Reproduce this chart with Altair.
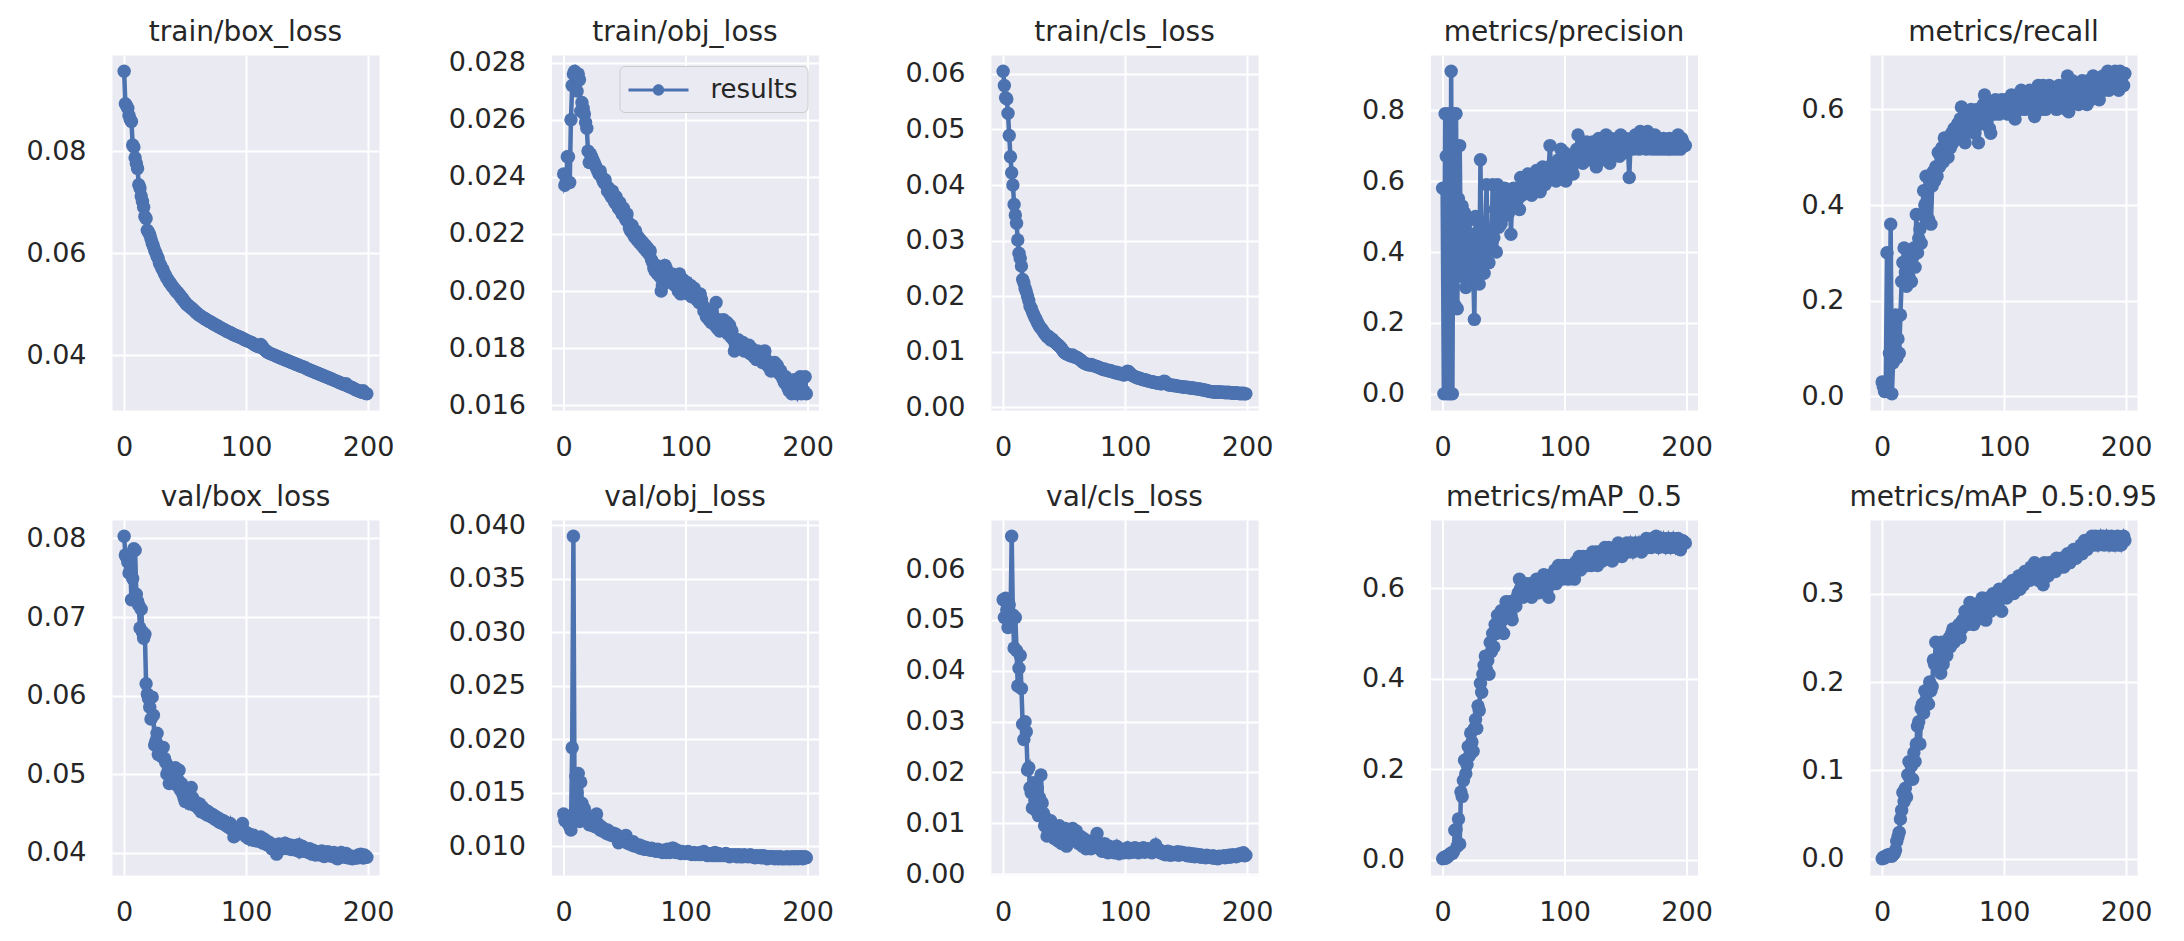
import altair as alt
import pandas as pd

BLUE = "#4C72B0"
TEXT = "#262626"
FONT = "DejaVu Sans"

epochs = list(range(200))

# train/box_loss  (units of 1e-4)
train_box_e4 = [
    957, 893, 889, 884, 870, 862, 858, 812, 808, 787,
    776, 766, 734, 728, 712, 702, 690, 672, 668, 645,
    641, 636, 628, 620, 614, 606, 601, 594, 589, 580,
    576, 570, 567, 560, 556, 551, 548, 543, 541, 536,
    534, 530, 528, 524, 523, 519, 517, 512, 511, 506,
    504, 500, 499, 496, 495, 492, 491, 488, 486, 483,
    482, 479, 478, 476, 475, 473, 472, 470, 469, 467,
    466, 465, 463, 462, 460, 459, 458, 456, 455, 454,
    452, 451, 450, 449, 447, 446, 445, 444, 443, 441,
    440, 439, 438, 437, 436, 435, 434, 433, 431, 430,
    429, 428, 427, 426, 425, 424, 422, 421, 419, 418,
    417, 416, 421, 418, 414, 411, 409, 407, 405, 404,
    403, 402, 401, 400, 399, 398, 397, 396, 395, 394,
    393, 392, 391, 390, 389, 388, 387, 386, 385, 384,
    383, 382, 381, 380, 379, 378, 377, 377, 376, 374,
    373, 372, 371, 370, 369, 368, 367, 366, 365, 364,
    363, 362, 361, 360, 359, 358, 357, 356, 355, 354,
    353, 352, 351, 350, 349, 348, 347, 346, 345, 344,
    343, 342, 344, 340, 339, 338, 337, 336, 335, 333,
    332, 331, 330, 329, 328, 327, 330, 326, 325, 324,
]

# train/obj_loss  (units of 1e-5)
train_obj_e5 = [
    2410, 2370, 2380, 2470, 2470, 2380, 2600, 2720, 2760, 2770,
    2750, 2700, 2760, 2740, 2630, 2660, 2640, 2620, 2590, 2570,
    2490, 2450, 2480, 2470, 2460, 2450, 2440, 2430, 2420, 2410,
    2420, 2400, 2390, 2380, 2390, 2370, 2350, 2360, 2340, 2330,
    2350, 2320, 2310, 2330, 2300, 2290, 2310, 2280, 2270, 2290,
    2260, 2250, 2270, 2240, 2220, 2210, 2230, 2200, 2190, 2210,
    2180, 2190, 2170, 2180, 2160, 2170, 2150, 2160, 2140, 2150,
    2130, 2140, 2110, 2100, 2080, 2070, 2090, 2060, 2080, 2050,
    2000, 2020, 2070, 2090, 2080, 2060, 2040, 2050, 2030, 2060,
    2040, 2020, 2050, 2030, 2000, 2060, 1990, 2010, 2040, 2020,
    2000, 2030, 1990, 2010, 2020, 1980, 2000, 2010, 1990, 1970,
    1980, 1960, 1990, 1970, 1950, 1930, 1940, 1910, 1920, 1900,
    1910, 1890, 1920, 1900, 1880, 1960, 1870, 1900, 1860, 1890,
    1880, 1900, 1860, 1870, 1890, 1850, 1880, 1840, 1860, 1830,
    1790, 1810, 1800, 1830, 1820, 1810, 1800, 1820, 1790, 1810,
    1800, 1790, 1810, 1780, 1800, 1790, 1770, 1780, 1760, 1790,
    1770, 1760, 1780, 1750, 1770, 1790, 1760, 1740, 1750, 1730,
    1720, 1740, 1730, 1750, 1720, 1740, 1730, 1710, 1720, 1700,
    1690, 1680, 1700, 1670, 1660, 1650, 1670, 1640, 1660, 1690,
    1650, 1640, 1680, 1660, 1700, 1640, 1690, 1650, 1700, 1640,
]

# train/cls_loss  (units of 1e-4)
train_cls_e4 = [
    605, 579, 557, 555, 529, 489, 451, 422, 400, 365,
    346, 331, 301, 277, 268, 254, 230, 224, 214, 208,
    200, 192, 182, 178, 172, 167, 162, 158, 153, 149,
    145, 142, 140, 136, 133, 130, 127, 128, 124, 121,
    123, 120, 118, 116, 114, 112, 110, 108, 105, 102,
    99, 97, 96, 95, 94, 93, 92, 94, 91, 90,
    90, 89, 87, 86, 84, 82, 80, 79, 78, 77,
    77, 76, 77, 76, 75, 74, 74, 73, 72, 71,
    70, 69, 68, 69, 67, 67, 66, 65, 66, 64,
    64, 63, 62, 63, 61, 60, 61, 60, 59, 58,
    59, 62, 65, 64, 61, 59, 57, 56, 55, 54,
    53, 52, 52, 51, 50, 50, 49, 49, 48, 47,
    47, 46, 46, 45, 45, 44, 44, 43, 43, 42,
    42, 43, 47, 46, 42, 41, 40, 40, 40, 39,
    39, 39, 38, 38, 38, 37, 37, 37, 36, 36,
    36, 36, 35, 35, 35, 34, 34, 34, 33, 33,
    33, 33, 32, 32, 31, 31, 30, 30, 29, 29,
    28, 28, 28, 27, 28, 27, 27, 28, 27, 27,
    27, 27, 26, 27, 26, 27, 26, 26, 25, 26,
    25, 26, 25, 25, 24, 25, 24, 25, 24, 24,
]

# metrics/precision  (units of 1e-3)
precision_e3 = [
    580, 0, 790, 670, 0, 790, 0, 910, 0, 790,
    250, 790, 240, 550, 700, 360, 530, 330, 510, 300,
    500, 320, 490, 310, 450, 350, 210, 500, 320, 430,
    310, 660, 350, 380, 340, 470, 590, 420, 370, 460,
    410, 590, 440, 520, 400, 590, 470, 540, 480, 560,
    500, 580, 530, 560, 510, 570, 450, 550, 580, 540,
    560, 570, 550, 520, 610, 560, 590, 570, 600, 580,
    620, 590, 610, 560, 600, 620, 590, 630, 600, 610,
    570, 620, 640, 610, 590, 630, 600, 640, 700, 620,
    610, 650, 630, 600, 640, 660, 620, 690, 650, 640,
    680, 600, 650, 670, 630, 660, 640, 620, 650, 680,
    690, 730, 660, 680, 700, 650, 690, 670, 710, 680,
    700, 660, 690, 710, 670, 700, 640, 690, 720, 680,
    700, 660, 710, 690, 730, 670, 700, 650, 720, 690,
    680, 710, 690, 720, 700, 670, 730, 690, 710, 680,
    720, 700, 690, 610, 700, 720, 690, 710, 730, 700,
    710, 690, 740, 720, 700, 730, 710, 690, 740, 720,
    700, 720, 690, 710, 730, 700, 690, 720, 710, 700,
    690, 720, 700, 710, 690, 700, 720, 690, 710, 700,
    720, 690, 710, 730, 700, 690, 720, 710, 700, 700,
]

# metrics/recall  (units of 1e-3)
recall_e3 = [
    30, 20, 10, 30, 300, 10, 90, 360, 5, 70,
    100, 170, 80, 120, 90, 170, 240, 280, 310, 260,
    230, 270, 250, 300, 240, 290, 310, 270, 380, 300,
    330, 350, 320, 380, 430, 400, 460, 410, 370, 450,
    360, 440, 470, 450, 480, 460, 510, 480, 500, 520,
    490, 540, 510, 530, 500, 540, 520, 550, 530, 560,
    540, 550, 570, 560, 580, 605, 560, 540, 530, 570,
    590, 560, 580, 600, 570, 590, 550, 580, 600, 530,
    590, 570, 600, 610, 630, 590, 580, 600, 560, 550,
    600, 610, 590, 620, 600, 610, 590, 600, 620, 610,
    600, 620, 610, 590, 620, 600, 630, 610, 600, 580,
    610, 630, 620, 600, 640, 610, 620, 600, 630, 610,
    620, 640, 610, 600, 630, 585, 640, 620, 650, 610,
    600, 630, 650, 620, 600, 640, 620, 650, 610, 630,
    620, 640, 610, 600, 630, 650, 620, 640, 610, 630,
    640, 600, 670, 595, 650, 630, 660, 640, 620, 650,
    630, 610, 620, 640, 660, 620, 650, 640, 610, 660,
    640, 620, 650, 670, 630, 660, 640, 650, 620, 660,
    650, 670, 640, 660, 650, 680, 640, 660, 670, 650,
    660, 680, 650, 670, 640, 680, 660, 670, 650, 675,
]

# val/box_loss  (units of 1e-4)
val_box_e4 = [
    803, 779, 776, 770, 756, 765, 722, 749, 787, 785,
    729, 720, 715, 686, 710, 681, 673, 678, 615, 602,
    596, 585, 570, 598, 575, 537, 542, 552, 525, 535,
    530, 522, 534, 520, 515, 500, 510, 488, 496, 505,
    495, 490, 508, 486, 493, 505, 480, 488, 475, 470,
    465, 472, 468, 476, 462, 483, 470, 466, 460, 464,
    460, 456, 462, 452, 458, 455, 450, 454, 448, 452,
    450, 446, 449, 444, 447, 442, 445, 440, 443, 438,
    438, 441, 436, 439, 434, 435, 432, 437, 430, 428,
    420, 426, 423, 428, 425, 430, 432, 437, 428, 424,
    420, 425, 418, 423, 420, 416, 422, 418, 415, 419,
    418, 414, 420, 416, 412, 417, 413, 410, 414, 409,
    412, 405, 410, 407, 403, 398, 408, 411, 404, 409,
    410, 406, 412, 408, 405, 410, 407, 404, 409, 406,
    408, 403, 406, 410, 401, 405, 408, 402, 406, 404,
    404, 400, 405, 402, 398, 403, 400, 397, 401, 399,
    400, 397, 402, 398, 395, 400, 397, 401, 396, 399,
    398, 395, 400, 396, 393, 392, 398, 394, 400, 396,
    397, 394, 399, 395, 393, 396, 394, 392, 395, 393,
    395, 393, 397, 394, 398, 396, 393, 397, 395, 394,
]

# val/obj_loss  (units of 1e-5)
val_obj_e5 = [
    1300, 1240, 1280, 1220, 1260, 1180, 1150, 1920, 3900, 1250,
    1650, 1500, 1680, 1230, 1600, 1400, 1300, 1350, 1250, 1280,
    1240, 1200, 1270, 1220, 1190, 1230, 1180, 1300, 1210, 1170,
    1150, 1180, 1140, 1160, 1130, 1120, 1150, 1110, 1130, 1100,
    1100, 1120, 1090, 1110, 1080, 1030, 1080, 1060, 1050, 1070,
    1040, 1100, 1030, 1050, 1020, 1030, 1010, 1040, 1000, 1010,
    1000, 990, 1010, 980, 1000, 980, 970, 990, 970, 980,
    970, 960, 980, 960, 970, 960, 950, 970, 950, 960,
    950, 940, 960, 950, 940, 970, 950, 940, 960, 980,
    980, 950, 940, 960, 940, 950, 930, 950, 940, 930,
    940, 930, 950, 930, 940, 920, 930, 940, 920, 930,
    930, 920, 940, 920, 930, 950, 920, 930, 910, 920,
    920, 930, 910, 920, 940, 910, 920, 930, 910, 920,
    920, 910, 920, 930, 910, 920, 900, 910, 920, 910,
    910, 920, 900, 910, 920, 900, 910, 900, 920, 910,
    910, 900, 910, 920, 900, 910, 900, 890, 910, 900,
    900, 910, 890, 900, 910, 890, 900, 880, 900, 890,
    900, 890, 900, 880, 890, 900, 880, 890, 900, 880,
    890, 880, 890, 900, 880, 890, 880, 900, 890, 880,
    900, 890, 880, 900, 890, 900, 880, 890, 900, 890,
]

# val/cls_loss  (units of 1e-4)
val_cls_e4 = [
    540, 505, 543, 520, 485, 530, 495, 665, 510, 445,
    505, 440, 370, 405, 430, 365, 295, 265, 300, 280,
    205, 210, 170, 160, 130, 180, 145, 125, 170, 115,
    150, 195, 140, 120, 95, 110, 75, 100, 90, 105,
    85, 95, 70, 90, 80, 65, 95, 75, 60, 85,
    70, 90, 55, 80, 65, 85, 70, 90, 75, 65,
    85, 70, 60, 75, 65, 55, 70, 60, 50, 65,
    55, 60, 50, 65, 55, 60, 70, 80, 60, 50,
    55, 45, 50, 60, 45, 50, 42, 55, 48, 45,
    50, 42, 48, 55, 45, 40, 50, 44, 47, 42,
    48, 45, 52, 42, 46, 50, 43, 48, 52, 44,
    47, 42, 50, 45, 48, 52, 43, 47, 45, 50,
    44, 48, 42, 46, 50, 58, 47, 44, 48, 42,
    45, 40, 43, 38, 42, 45, 40, 37, 43, 41,
    38, 42, 40, 44, 37, 41, 43, 39, 42, 38,
    40, 36, 41, 38, 35, 40, 37, 34, 39, 36,
    35, 38, 33, 37, 34, 36, 32, 37, 35, 33,
    34, 32, 36, 31, 34, 33, 30, 35, 32, 34,
    33, 36, 32, 35, 34, 37, 33, 36, 38, 35,
    37, 34, 38, 36, 40, 37, 39, 42, 36, 37,
]

# metrics/mAP_0.5  (units of 1e-3)
map50_e3 = [
    2, 5, 3, 8, 6, 10, 12, 15, 14, 18,
    65, 67, 30, 90, 35, 150, 140, 175, 220, 190,
    210, 250, 230, 280, 260, 240, 290, 310, 290, 340,
    330, 390, 370, 410, 430, 450, 420, 440, 410, 480,
    460, 500, 470, 520, 500, 540, 520, 510, 550, 530,
    500, 540, 570, 550, 560, 570, 540, 530, 560, 570,
    560, 580, 590, 620, 600, 590, 580, 600, 590, 610,
    600, 590, 610, 580, 600, 590, 610, 620, 600, 590,
    610, 620, 600, 630, 610, 620, 600, 580, 620, 630,
    630, 620, 640, 610, 640, 650, 630, 640, 620, 650,
    640, 650, 630, 620, 640, 650, 640, 630, 620, 650,
    660, 650, 670, 640, 660, 670, 650, 660, 670, 650,
    670, 660, 650, 680, 670, 660, 680, 650, 670, 680,
    680, 660, 670, 690, 680, 670, 690, 680, 670, 660,
    680, 690, 670, 680, 700, 690, 680, 670, 690, 680,
    690, 700, 680, 690, 700, 690, 680, 690, 700, 690,
    690, 700, 690, 680, 700, 690, 700, 710, 690, 700,
    700, 690, 710, 700, 710, 715, 700, 690, 700, 710,
    700, 710, 700, 690, 700, 710, 700, 690, 700, 710,
    700, 690, 700, 710, 690, 685, 700, 705, 700, 700,
]

# metrics/mAP_0.5:0.95  (units of 1e-3)
map5095_e3 = [
    0, 2, 1, 3, 4, 3, 5, 4, 3, 5,
    6, 10, 20, 25, 30, 45, 55, 75, 65, 80,
    70, 95, 110, 90, 105, 90, 120, 110, 130, 150,
    155, 130, 170, 175, 165, 190, 180, 190, 175, 200,
    190, 195, 225, 220, 245, 220, 215, 225, 210, 245,
    220, 235, 240, 230, 245, 250, 240, 255, 260, 245,
    250, 260, 255, 265, 250, 260, 270, 265, 280, 270,
    265, 275, 290, 270, 275, 265, 280, 270, 275, 285,
    290, 280, 295, 285, 290, 270, 285, 295, 290, 280,
    295, 300, 285, 295, 300, 290, 305, 295, 280, 300,
    300, 305, 295, 310, 300, 310, 305, 315, 300, 310,
    315, 310, 320, 305, 315, 320, 310, 325, 315, 320,
    320, 315, 330, 320, 325, 335, 320, 330, 315, 325,
    330, 320, 310, 335, 325, 330, 320, 335, 330, 325,
    330, 335, 325, 340, 330, 335, 330, 340, 335, 330,
    340, 335, 345, 340, 335, 345, 340, 350, 345, 340,
    350, 345, 350, 355, 345, 350, 360, 355, 350, 360,
    360, 355, 365, 360, 355, 365, 360, 355, 360, 365,
    360, 365, 355, 360, 365, 360, 355, 360, 365, 355,
    360, 355, 360, 365, 355, 360, 355, 360, 365, 360,
]

titles = ["train/box_loss", "train/obj_loss", "train/cls_loss", "metrics/precision", "metrics/recall",
          "val/box_loss", "val/obj_loss", "val/cls_loss", "metrics/mAP_0.5", "metrics/mAP_0.5:0.95"]
series = [train_box_e4, train_obj_e5, train_cls_e4, precision_e3, recall_e3,
          val_box_e4, val_obj_e5, val_cls_e4, map50_e3, map5095_e3]
units = [1e-4, 1e-5, 1e-4, 1e-3, 1e-3, 1e-4, 1e-5, 1e-4, 1e-3, 1e-3]
y_ticks = [
    [0.04, 0.06, 0.08],
    [0.016, 0.018, 0.020, 0.022, 0.024, 0.026, 0.028],
    [0.00, 0.01, 0.02, 0.03, 0.04, 0.05, 0.06],
    [0.0, 0.2, 0.4, 0.6, 0.8],
    [0.0, 0.2, 0.4, 0.6],
    [0.04, 0.05, 0.06, 0.07, 0.08],
    [0.010, 0.015, 0.020, 0.025, 0.030, 0.035, 0.040],
    [0.00, 0.01, 0.02, 0.03, 0.04, 0.05, 0.06],
    [0.0, 0.2, 0.4, 0.6],
    [0.0, 0.1, 0.2, 0.3],
]
y_formats = [".2f", ".3f", ".2f", ".1f", ".1f", ".2f", ".3f", ".2f", ".1f", ".1f"]
x_ticks = [0, 100, 200]
legend_label = "results"

for name, s in zip(titles, series):
    assert len(s) == len(epochs), (name, len(s))

PW, PH = 267, 355
LABEL_SIZE = 27
TITLE_OFFSET = -14

LEGEND_SYMBOL = ("M-1,-0.1L3,-0.1L3,0.1L-1,0.1Z "
                 "M0.62,0A0.38,0.38 0 1,1 1.38,0A0.38,0.38 0 1,1 0.62,0Z")


def top_label_overflow(ticks, lo, hi):
    """How far the topmost y label pokes above the plot area (titles sit above it)."""
    inside = [t for t in ticks if t <= hi]
    d = (hi - max(inside)) / (hi - lo) * PH
    return max(0.0, LABEL_SIZE / 2 - d)


def make_panel(title, raw, unit, ticks, fmt, with_legend=False):
    vals = [v * unit for v in raw]
    df = pd.DataFrame({"epoch": epochs, "value": vals, "series": [legend_label] * len(vals)})
    lo, hi = min(vals), max(vals)
    pad = 0.05 * (hi - lo)
    d_lo, d_hi = lo - pad, hi + pad
    xpad = 0.05 * (max(epochs) - min(epochs))
    x = alt.X("epoch:Q",
              scale=alt.Scale(domain=[min(epochs) - xpad, max(epochs) + xpad], nice=False, zero=False),
              axis=alt.Axis(values=x_ticks, format="d", title=None, labelPadding=24))
    y = alt.Y("value:Q",
              scale=alt.Scale(domain=[d_lo, d_hi], nice=False, zero=False),
              axis=alt.Axis(values=ticks, format=fmt, title=None, labelPadding=26))
    base = alt.Chart(df).encode(x=x, y=y)
    line = base.mark_line(color=BLUE, strokeWidth=4.5)
    pts = base.mark_circle(size=180, opacity=1, color=BLUE)
    if with_legend:
        pts = pts.encode(color=alt.Color(
            "series:N",
            scale=alt.Scale(range=[BLUE]),
            legend=alt.Legend(
                title=None, orient="top-right", offset=11,
                fillColor="#EAEAF2", strokeColor="#CCCCCC", cornerRadius=5, padding=9,
                labelFont=FONT, labelFontSize=26, labelColor=TEXT, labelOffset=52,
                symbolType=LEGEND_SYMBOL, symbolSize=900, symbolStrokeWidth=0,
            ),
        ))
    off = TITLE_OFFSET - top_label_overflow(ticks, d_lo, d_hi)
    return alt.layer(line, pts).properties(
        width=PW, height=PH,
        title=alt.TitleParams(title, fontSize=28, font=FONT, color=TEXT, fontWeight="normal",
                              anchor="middle", baseline="alphabetic", offset=off, frame="group"),
    )


panels = [make_panel(t, s, u, tk, f, with_legend=(i == 1))
          for i, (t, s, u, tk, f) in enumerate(zip(titles, series, units, y_ticks, y_formats))]

chart = alt.concat(
    *panels, columns=5, spacing={"row": 110, "column": 172.5}, bounds="flush",
).resolve_scale(color="independent").resolve_legend(color="independent").properties(
    padding={"left": 17, "top": 10, "right": 5, "bottom": 5},
    background="#FFFFFF",
).configure_view(
    fill="#EAEAF2", strokeOpacity=0,
).configure_axis(
    grid=True, gridColor="#FFFFFF", gridWidth=2, gridOpacity=1,
    domain=False, ticks=False,
    labelFont=FONT, labelFontSize=LABEL_SIZE, labelColor=TEXT,
)

chart.save("out.html", embed_options={"renderer": "svg", "actions": False})
